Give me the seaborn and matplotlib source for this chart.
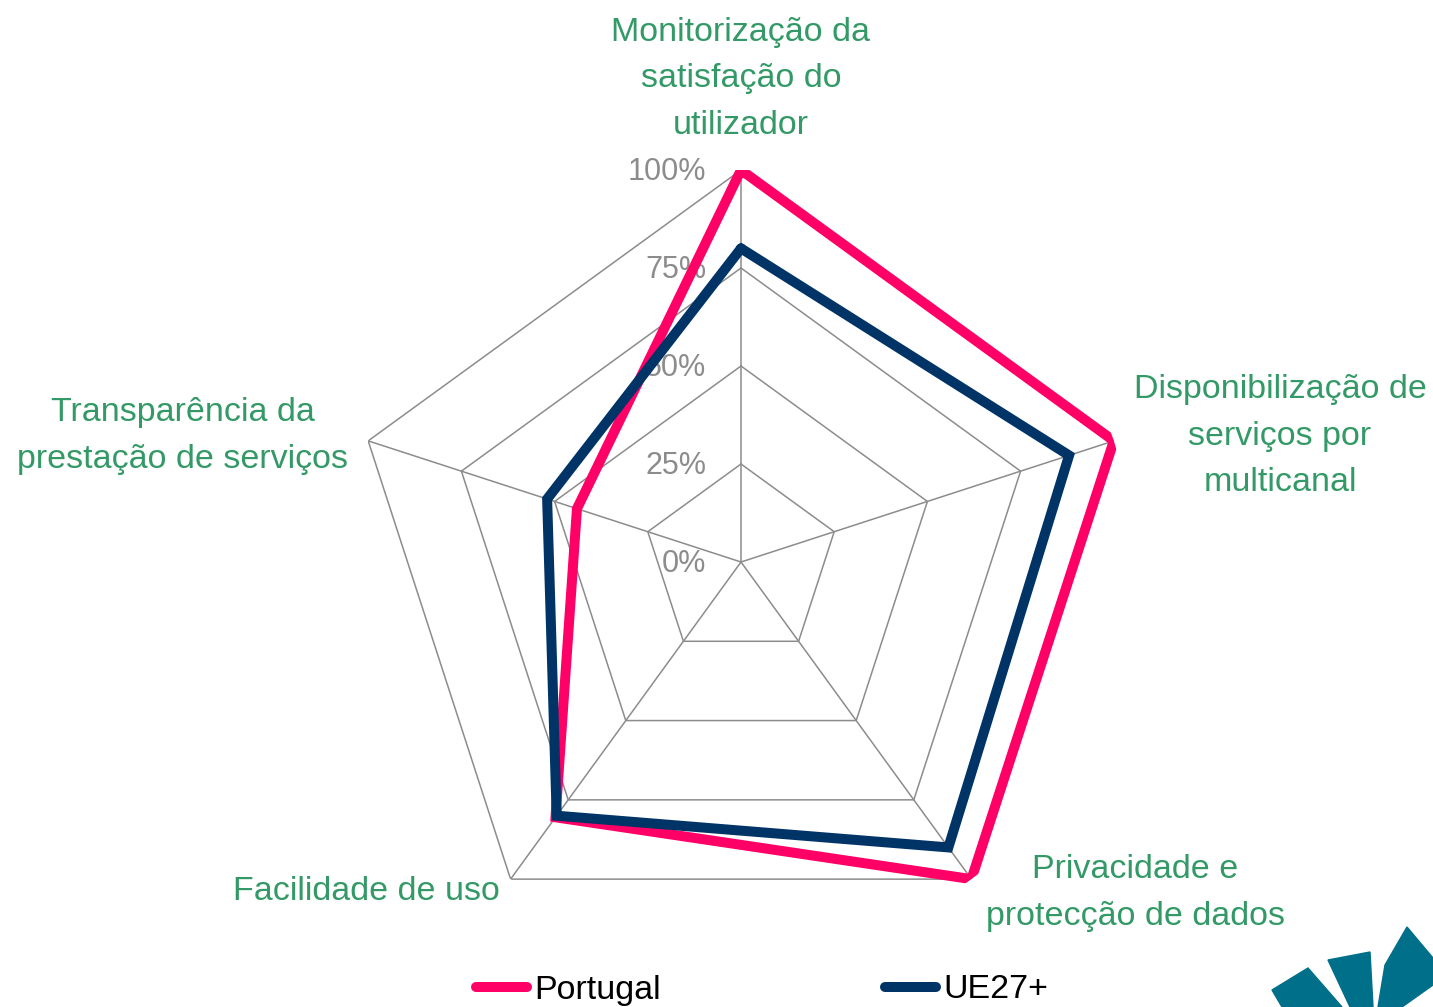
import numpy as np
import pandas as pd
import matplotlib.pyplot as plt
import seaborn as sns
from matplotlib.patches import Polygon
from matplotlib.lines import Line2D

# ======================================================
# DATA
# ======================================================
categories = [
    "Monitorização da\nsatisfação do\nutilizador",
    "Disponibilização de\nserviços por\nmulticanal",
    "Privacidade e\nprotecção de dados",
    "Facilidade de uso",
    "Transparência da\nprestação de serviços",
]
portugal = [1.00, 1.00, 1.00, 0.805, 0.44]
ue27 = [0.80, 0.88, 0.90, 0.80, 0.52]
tick_values = [0.0, 0.25, 0.50, 0.75, 1.00]
tick_labels = ["0%", "25%", "50%", "75%", "100%"]

PINK = "#FF0066"
NAVY = "#003366"
GREEN = "#339966"
GRID = "#8C8C8C"
TEAL = "#006F8A"

sns.set_theme(style="white")
plt.rcParams['font.family'] = ['Liberation Sans Narrow', 'Liberation Sans', 'DejaVu Sans']

W, H = 1433, 1007
fig = plt.figure(figsize=(W / 100, H / 100), dpi=100)
ax = fig.add_axes([349 / W, 53 / H, 784 / W, 784 / H], projection="polar")
ax.set_theta_zero_location("N")
ax.set_theta_direction(-1)

theta = np.deg2rad(np.arange(len(categories)) * 72.0)
theta_closed = np.append(theta, theta[0])

# pentagon grid
for v in tick_values[1:]:
    ax.plot(theta_closed, [v] * len(theta_closed), color=GRID, lw=1.1, zorder=1)
for t in theta:
    ax.plot([t, t], [0, 1], color=GRID, lw=1.1, zorder=1)

# series
rows = []
for name, vals in [("Portugal", portugal), ("UE27+", ue27)]:
    closed = vals + [vals[0]]
    for i, (t, r) in enumerate(zip(theta_closed, closed)):
        rows.append({"serie": name, "theta": t, "r": r, "ordem": i})
df = pd.DataFrame(rows)

sns.lineplot(data=df, x="theta", y="r", hue="serie", units="serie", estimator=None,
             sort=False, palette={"Portugal": PINK, "UE27+": NAVY},
             linewidth=7.2, legend=False, ax=ax, zorder=3)
for line in ax.get_lines()[-2:]:
    line.set_solid_joinstyle("miter")

ax.set_ylim(0, 1)
ax.grid(False)
ax.spines["polar"].set_visible(False)
ax.set_xticks([])
ax.set_yticks([])
ax.set_xlabel("")
ax.set_ylabel("")
ax.patch.set_alpha(0)

# radial tick labels
for v, lab in zip(tick_values, tick_labels):
    ax.annotate(lab, xy=(0, v), xytext=(-25, -1.5), textcoords="offset points",
                ha="right", va="center", fontsize=22, color="#8C8C8C", zorder=2)

# category labels
label_pos = [(741, 79, "center"), (1280, 436, "center"), (1135, 893, "center"),
             (500, 891, "right"), (183, 436, "center")]
for cat, (x, y, ha) in zip(categories, label_pos):
    fig.text(x / W, 1 - y / H, cat, ha=ha, va="center", fontsize=24.5,
             color=GREEN, linespacing=1.65)

# legend
handles = [Line2D([], [], color=PINK, lw=7.2, solid_capstyle="round"),
           Line2D([], [], color=NAVY, lw=7.2, solid_capstyle="round")]
fig.legend(handles, ["Portugal", "UE27+"], loc="center", ncol=2,
           bbox_to_anchor=(762 / W, 1 - 990 / H), frameon=False, fontsize=24.5,
           labelcolor="black", handlelength=1.5, handletextpad=0.2,
           columnspacing=6.6)

# logo fragment (bottom right)
logo = [
    [(1272, 990), (1308, 968), (1342, 1007), (1282, 1007)],
    [(1328, 960), (1370, 952), (1373, 1007), (1350, 1007)],
    [(1407, 927), (1433, 958), (1433, 985), (1402, 1007), (1378, 1007), (1385, 965)],
]
for pts in logo:
    fig.patches.append(Polygon([(x / W, 1 - y / H) for x, y in pts], closed=True,
                               transform=fig.transFigure, color=TEAL, zorder=0))

fig.savefig("out.png", dpi=100, facecolor="white")
